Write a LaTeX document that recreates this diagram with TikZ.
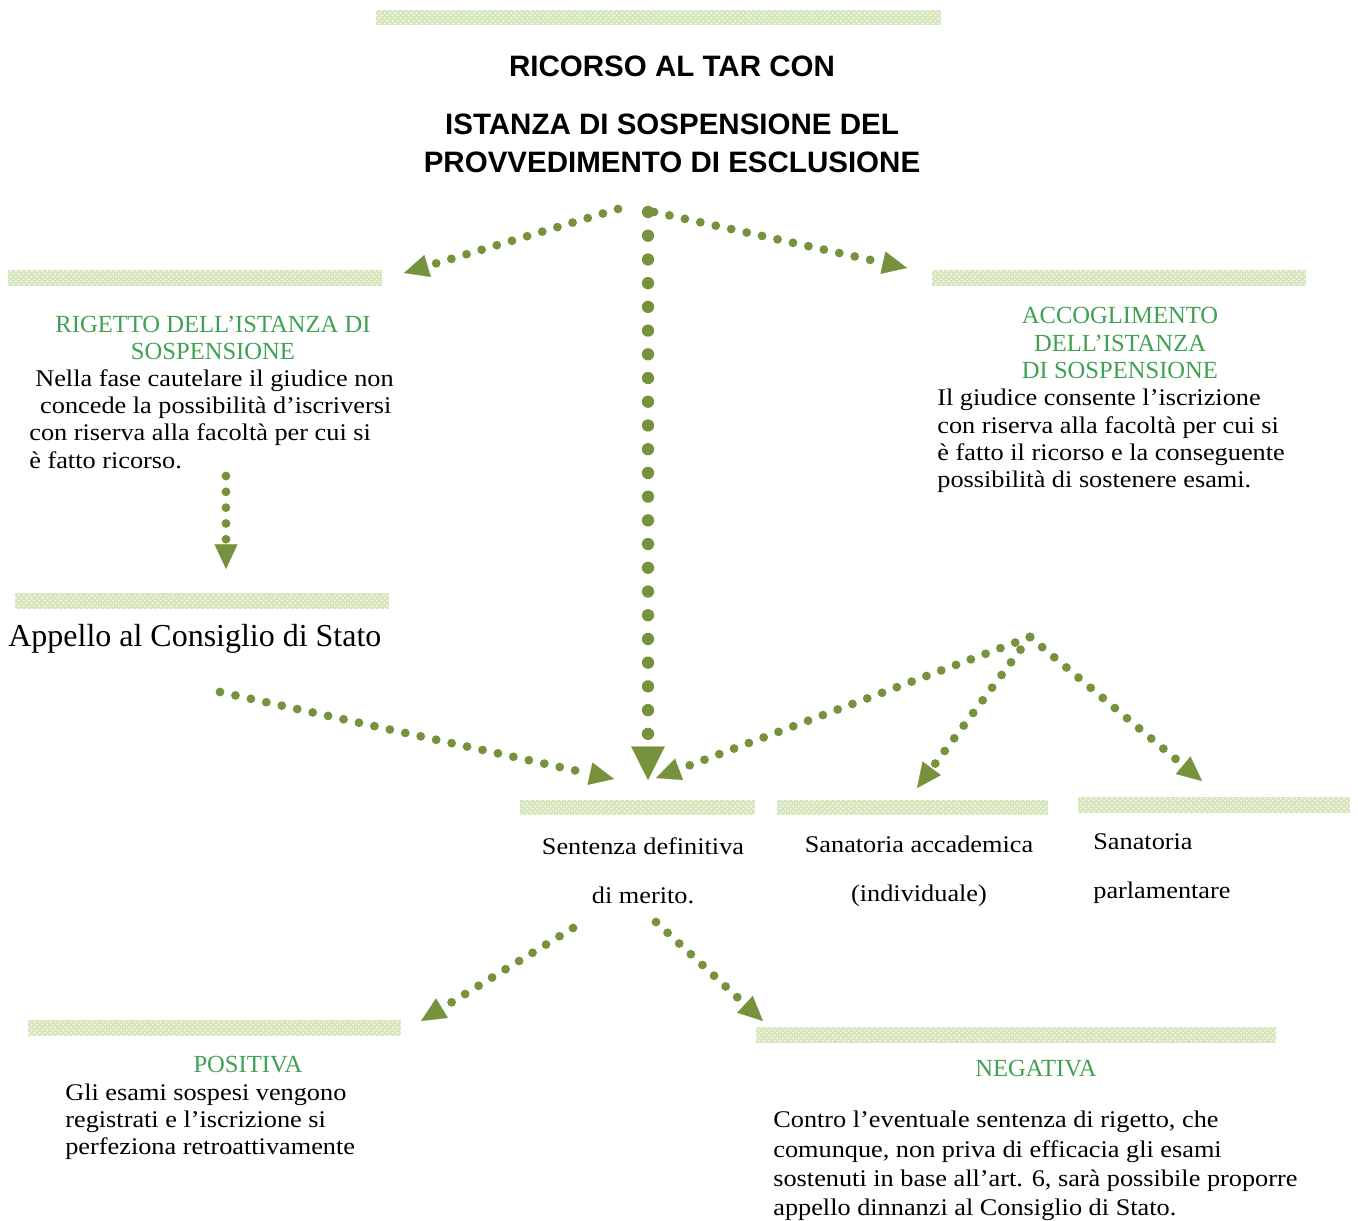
\documentclass[tikz,border=0pt]{standalone}
\usepackage{fontspec}
\setmainfont{Liberation Serif}
\newfontfamily\bodyfont[FakeStretch=1.1]{Liberation Serif}
\newfontfamily\titlefont{Liberation Sans}
\usetikzlibrary{arrows.meta,patterns}
\definecolor{arrowgreen}{RGB}{118,146,60}
\definecolor{headgreen}{RGB}{64,160,84}
\definecolor{bandgreen}{RGB}{216,230,190}
\tikzset{>={Triangle[length=14pt,width=13pt,line width=0.1pt]}}
\tikzstyle{band}=[fill=bandgreen,postaction={pattern=crosshatch dots,pattern color=white}]
\tikzstyle{flow}=[draw=arrowgreen,line width=5pt,line cap=round,dash pattern=on 0pt off 9pt,->]
\tikzstyle{bigflow}=[flow,line width=7pt,dash pattern=on 0pt off 13.5pt,-{Triangle[length=19pt,width=19pt,line width=0.1pt]}]
\tikzstyle{title}=[font=\titlefont\bfseries\fontsize{16.8}{21.5}\selectfont,align=center,inner sep=0pt]
\tikzstyle{head}=[text=headgreen,font=\fontsize{14}{15.5}\selectfont,align=center,inner sep=0pt]
\tikzstyle{body}=[font=\bodyfont\fontsize{13.6}{15.5}\selectfont,align=left,inner sep=0pt,anchor=west]
\tikzstyle{mid}=[font=\bodyfont\fontsize{13.6}{27.8}\selectfont,inner sep=0pt]

\begin{document}
\begin{tikzpicture}[x=0.02cm,y=-0.02cm]
	\useasboundingbox (0,0) rectangle (1358,1220);
	
	% bands
	\fill[band] (376,10) rectangle (941,25);
	\fill[band] (8,270) rectangle (382,286);
	\fill[band] (932,270) rectangle (1306,286);
	\fill[band] (15,593) rectangle (389,609);
	\fill[band] (520,800) rectangle (755,815);
	\fill[band] (777,800) rectangle (1048,815);
	\fill[band] (1078,797) rectangle (1350,813);
	\fill[band] (28,1020) rectangle (401,1036);
	\fill[band] (756,1027) rectangle (1276,1043);
	
	% texts
	\node[title] (ricorso) at (672,66) {RICORSO AL TAR CON};
	\node[title] (istanza) at (672,143) {ISTANZA DI SOSPENSIONE DEL\\PROVVEDIMENTO DI ESCLUSIONE};
	
	\node[head] (rigetto) at (213,338) {RIGETTO DELL’ISTANZA DI\\SOSPENSIONE};
	\node[body] (rigettotxt) at (29,419) {\hspace*{3.4pt}Nella fase cautelare il giudice non\\\hspace*{6.2pt}concede la possibilità d’iscriversi\\con riserva alla facoltà per cui si\\è fatto ricorso.};
	
	\node[head] (accoglimento) at (1120,343) {ACCOGLIMENTO\\DELL’ISTANZA\\DI SOSPENSIONE};
	\node[body] (accoglimentotxt) at (937,441) {Il giudice consente l’iscrizione\\con riserva alla facoltà per cui si\\è fatto il ricorso e la conseguente\\possibilità di sostenere esami.};
	
	\node[anchor=west,inner sep=0pt,font=\fontsize{18.2}{20}\selectfont] (appello) at (8,639) {Appello al Consiglio di Stato};
	
	\node[mid,align=center] (sentenza) at (643,871) {Sentenza definitiva\\di merito.};
	\node[mid,align=center] (accademica) at (919,871) {Sanatoria accademica\\(individuale)};
	\node[mid,align=left,anchor=west] (parlamentare) at (1093,869) {Sanatoria\\parlamentare};
	
	\node[head] (positiva) at (248,1065) {POSITIVA};
	\node[body] (positivatxt) at (65,1122) {Gli esami sospesi vengono\\registrati e l’iscrizione si\\perfeziona retroattivamente};
	
	\node[head] (negativa) at (1036,1069) {NEGATIVA};
	\node[body,font=\bodyfont\fontsize{13.6}{16.6}\selectfont] (negativatxt) at (773,1166) {Contro l’eventuale sentenza di rigetto, che\\comunque, non priva di efficacia gli esami\\sostenuti in base all’art. 6, sarà possibile proporre\\appello dinnanzi al Consiglio di Stato.};
	
	% connector ends
	\coordinate (radice) at (648,212);
	\coordinate (radiceL) at (618,209);
	\coordinate (radiceR) at (654,212);
	\coordinate (versoRigetto) at (404,273);
	\coordinate (versoAccoglimento) at (907,268);
	\coordinate (versoSentenza) at (648,780);
	\coordinate (rigettoOut) at (226,476);
	\coordinate (versoAppello) at (226,569);
	\coordinate (appelloOut) at (220,692);
	\coordinate (appelloIn) at (614,779);
	\coordinate (bivio) at (1030,637);
	\coordinate (bivioIn) at (656,778);
	\coordinate (versoAccademica) at (917,788);
	\coordinate (versoParlamentare) at (1202,781);
	\coordinate (sentenzaL) at (573,928);
	\coordinate (sentenzaR) at (656,922);
	\coordinate (versoPositiva) at (421,1021);
	\coordinate (versoNegativa) at (763,1021);
	
	% arrows
	\draw[flow] (radiceL) -- (versoRigetto);
	\draw[bigflow] (radice) -- (versoSentenza);
	\draw[flow] (radiceR) -- (versoAccoglimento);
	\draw[flow] (rigettoOut) -- (versoAppello);
	\draw[flow] (appelloOut) -- (appelloIn);
	\draw[flow] (bivio) -- (bivioIn);
	\draw[flow] (bivio) -- (versoAccademica);
	\draw[flow] (bivio) -- (versoParlamentare);
	\draw[flow] (sentenzaL) -- (versoPositiva);
	\draw[flow] (sentenzaR) -- (versoNegativa);
\end{tikzpicture}
\end{document}
